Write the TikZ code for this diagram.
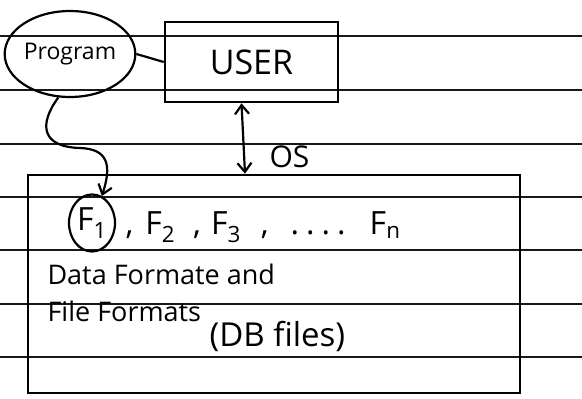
\documentclass[tikz,border=0pt]{standalone}
\usepackage{fontspec}
\setmainfont{Open Sans}
\usetikzlibrary{shapes.geometric,arrows.meta}

\begin{document}
\begin{tikzpicture}[
       x=1pt, y=-1pt,
       rule/.style={line width=1.8pt, black!90},
       box/.style={
         draw,
         line width=2.6pt,
         inner sep=0pt
       },
       ring/.style={
         draw,
         ellipse,
         line width=2.2pt,
         inner sep=0pt
       },
       link/.style={line width=2.2pt}
     ]

       \useasboundingbox (0,0) rectangle (582,399);

       % ruled paper
       \draw[rule] (0,36) -- (582,36);
       \draw[rule] (0,90) -- (582,90);
       \draw[rule] (0,144) -- (582,144);
       \draw[rule] (0,197) -- (582,197);
       \draw[rule] (0,250) -- (582,250);
       \draw[rule] (0,304) -- (582,304);
       \draw[rule] (0,357) -- (582,357);

       \node (user) at (251.5,62) [box,minimum width=173pt,minimum height=80pt,font=\fontsize{34}{36}\selectfont]{USER};
       \node (prog) at (70,54) [ring,minimum width=117pt,minimum height=86pt,font=\fontsize{23}{25}\selectfont]{Program};
       \node (files) at (274,284) [box,minimum width=492pt,minimum height=218pt]{};

       \node (f1) at (92,223) [ring,minimum width=46pt,minimum height=57pt,font=\fontsize{32}{34}\selectfont]{F\textsubscript{1}};
       \node (fn) at (122,227) [anchor=west,font=\fontsize{32}{34}\selectfont]{,\hspace{12pt}F\textsubscript{2}\hspace{18pt},\hspace{10pt}F\textsubscript{3}\hspace{20pt},\hspace{22pt}.\hspace{7pt}.\hspace{7pt}.\hspace{7pt}.\hspace{24pt}F\textsubscript{n}};
       \node (os) at (266,157) [anchor=west,font=\fontsize{30}{32}\selectfont]{OS};

       \node (data) at (44,284) [anchor=base west,font=\fontsize{27}{29}\selectfont]{Data Formate and};
       \node (fmt) at (44,321) [anchor=base west,font=\fontsize{27}{29}\selectfont]{File Formats};
       \node (db) at (206,346) [anchor=base west,font=\fontsize{33}{35}\selectfont]{(DB files)};

       \draw[link] (prog.east) -- (user.west);
       \draw[link,<->,>={Straight Barb[length=9pt,width=14pt]}] ([xshift=-10pt]user.south) -- ([xshift=-29pt]files.north);
       \draw[link,->,>={Straight Barb[length=9pt,width=14pt]}] (prog.255) .. controls (38,125) and (42,147) .. (80,148)
              .. controls (108,149) and (112,165) .. (f1.70);

\end{tikzpicture}
\end{document}
